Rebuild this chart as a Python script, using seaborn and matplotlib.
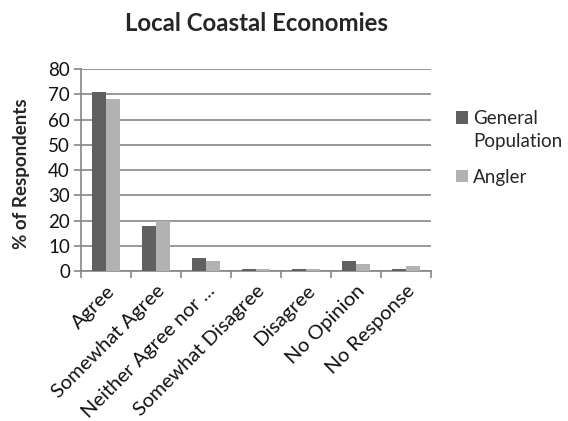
import pandas as pd
import numpy as np
import seaborn as sns
import matplotlib
matplotlib.use("Agg")
import matplotlib.pyplot as plt
from matplotlib.patches import Rectangle
from matplotlib.legend_handler import HandlerPatch

categories = ["Agree", "Somewhat Agree", "Neither Agree nor ...", "Somewhat Disagree",
              "Disagree", "No Opinion", "No Response"]
general_population = [71, 18, 5, 1, 1, 4, 1]
angler = [68, 20, 4, 1, 1, 3, 2]
series_names = ["General\nPopulation", "Angler"]

df = pd.DataFrame({
    "category": categories * 2,
    "value": general_population + angler,
    "series": [series_names[0]] * len(categories) + [series_names[1]] * len(categories),
})

sns.set_style("white")
plt.rcParams["font.family"] = ["Lato", "DejaVu Sans"]

fig = plt.figure(figsize=(5.68, 4.21), dpi=100)
ax = fig.add_axes([0.1426, 0.356, 0.616, 0.48])

grid_col = "#868686"
sns.barplot(data=df, x="category", y="value", hue="series", ax=ax,
            palette=["#606060", "#b2b2b2"], width=0.57, saturation=1,
            edgecolor="none", zorder=3)

ax.set_ylim(0, 80)
ax.set_yticks(range(0, 81, 10))
ax.set_xlim(-0.5, len(categories) - 0.5)
ax.yaxis.grid(True, color=grid_col, linewidth=1.2, zorder=0)
ax.set_axisbelow(True)
for s in ["top", "right"]:
    ax.spines[s].set_visible(False)
for s in ["left", "bottom"]:
    ax.spines[s].set_color(grid_col)
    ax.spines[s].set_linewidth(1.2)

# ticks between categories on x, small outward ticks on y
ax.set_xticks(np.arange(len(categories)))
ax.set_xticklabels(categories, rotation=45, ha="right", rotation_mode="anchor",
                   fontsize=14.5, color="#111111")
ax.tick_params(axis="x", length=0, pad=8)
ax.set_xticks(np.arange(len(categories) + 1) - 0.5, minor=True)
ax.tick_params(axis="x", which="minor", length=5, color=grid_col, width=1.2, direction="out", bottom=True)
ax.tick_params(axis="y", length=5, color=grid_col, width=1.2, direction="out",
               labelsize=13.5, labelcolor="#111111", pad=3, left=True)

ax.set_xlabel("")
ax.set_ylabel("% of Respondents", fontsize=13.5, fontweight="bold")
ax.yaxis.set_label_coords(-0.147, 0.48)
fig.suptitle("Local Coastal Economies", x=0.451, y=0.945, va="center",
             fontsize=17.3, fontweight="bold")


# legend square sits beside the first line of a two-line label, as in Excel
def first_line_square(legend, orig_handle, xdescent, ydescent, width, height, fontsize):
    shift = 0.0
    if "\n" in orig_handle.get_label():
        shift = 9.4
    return Rectangle((-xdescent, -ydescent + shift), width, height)


handles, labels = ax.get_legend_handles_labels()
for h, l in zip(handles, labels):
    h.set_label(l)
leg = ax.legend(handles, labels, loc="upper left", bbox_to_anchor=(1.071, 0.795),
                frameon=False, fontsize=13.5, borderpad=0,
                handlelength=0.64, handleheight=0.64, handletextpad=0.27, labelspacing=1.0,
                borderaxespad=0,
                handler_map={h: HandlerPatch(patch_func=first_line_square) for h in handles})
for t in leg.get_texts():
    t.set_linespacing(1.38)

fig.savefig("out.png", dpi=100)
